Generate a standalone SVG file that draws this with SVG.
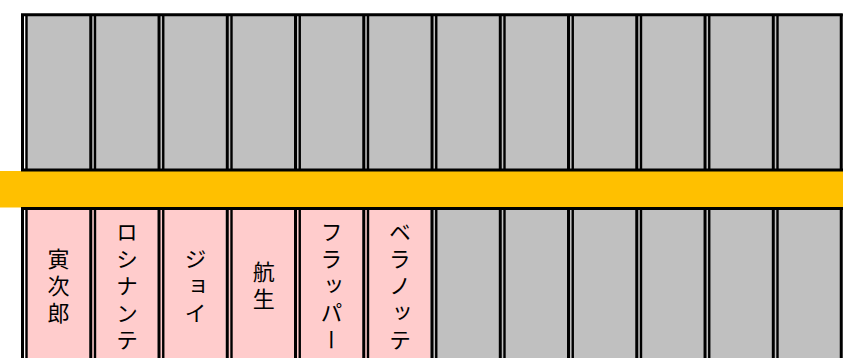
<svg xmlns="http://www.w3.org/2000/svg" width="843" height="358" viewBox="0 0 843 358">
<style>
.g{fill:#C0C0C0}
.p{fill:#FFCCCC}
.a{stroke:#000;stroke-width:3;fill:none}
.b{stroke:#000;stroke-width:2.4;fill:none}
.t{font-family:"Noto Sans CJK JP","Noto Sans CJK SC",sans-serif;font-size:22px;writing-mode:vertical-rl;text-anchor:middle;letter-spacing:5px;fill:#000}
</style>
<rect width="843" height="358" fill="#fff"/>
<g id="band"><rect x="0" y="171" width="843" height="36.5" fill="#FFC000"/></g>

<g id="top-1"><rect class="g" x="25.5" y="15" width="63.75" height="155"/><path class="a" d="M22.5 14V171"/><path class="b" d="M26.5 14V171"/></g>
<g id="top-2"><rect class="g" x="89.25" y="15" width="68.25" height="155"/><path class="a" d="M90.75 14V171"/><path class="b" d="M95 14V171"/></g>
<g id="top-3"><rect class="g" x="157.5" y="15" width="68.25" height="155"/><path class="a" d="M159 14V171"/><path class="b" d="M163.25 14V171"/></g>
<g id="top-4"><rect class="g" x="225.75" y="15" width="68.25" height="155"/><path class="a" d="M227.25 14V171"/><path class="b" d="M231.5 14V171"/></g>
<g id="top-5"><rect class="g" x="294" y="15" width="68.25" height="155"/><path class="a" d="M295.5 14V171"/><path class="b" d="M299.75 14V171"/></g>
<g id="top-6"><rect class="g" x="362.25" y="15" width="68.25" height="155"/><path class="a" d="M363.75 14V171"/><path class="b" d="M368 14V171"/></g>
<g id="top-7"><rect class="g" x="430.5" y="15" width="68.25" height="155"/><path class="a" d="M432 14V171"/><path class="b" d="M436.25 14V171"/></g>
<g id="top-8"><rect class="g" x="498.75" y="15" width="68.25" height="155"/><path class="a" d="M500.25 14V171"/><path class="b" d="M504.5 14V171"/></g>
<g id="top-9"><rect class="g" x="567" y="15" width="68.25" height="155"/><path class="a" d="M568.5 14V171"/><path class="b" d="M572.75 14V171"/></g>
<g id="top-10"><rect class="g" x="635.25" y="15" width="68.25" height="155"/><path class="a" d="M636.75 14V171"/><path class="b" d="M641 14V171"/></g>
<g id="top-11"><rect class="g" x="703.5" y="15" width="68.25" height="155"/><path class="a" d="M705 14V171"/><path class="b" d="M709.25 14V171"/></g>
<g id="top-12"><rect class="g" x="771.75" y="15" width="68.25" height="155"/><path class="a" d="M773.25 14V171"/><path class="b" d="M777.5 14V171"/><path class="a" d="M841.25 14V171"/></g>

<g id="bottom-1"><rect class="p" x="25.5" y="209" width="63.75" height="150"/><path class="a" d="M22.5 208V358"/><path class="b" d="M26.5 208V358"/><text class="t" x="58.5" y="288">寅次郎</text></g>
<g id="bottom-2"><rect class="p" x="89.25" y="209" width="68.25" height="150"/><path class="a" d="M90.75 208V358"/><path class="b" d="M95 208V358"/><text class="t" x="127" y="288">ロシナンテ</text></g>
<g id="bottom-3"><rect class="p" x="157.5" y="209" width="68.25" height="150"/><path class="a" d="M159 208V358"/><path class="b" d="M163.25 208V358"/><text class="t" x="195.5" y="288">ジョイ</text></g>
<g id="bottom-4"><rect class="p" x="225.75" y="209" width="68.25" height="150"/><path class="a" d="M227.25 208V358"/><path class="b" d="M231.5 208V358"/><text class="t" x="263.75" y="288">航生</text></g>
<g id="bottom-5"><rect class="p" x="294" y="209" width="68.25" height="150"/><path class="a" d="M295.5 208V358"/><path class="b" d="M299.75 208V358"/><text class="t" x="331.5" y="288">フラッパー</text></g>
<g id="bottom-6"><rect class="p" x="362.25" y="209" width="68.25" height="150"/><path class="a" d="M363.75 208V358"/><path class="b" d="M368 208V358"/><text class="t" x="400" y="288">ベラノッテ</text></g>
<g id="bottom-7"><rect class="g" x="430.5" y="209" width="68.25" height="150"/><path class="a" d="M432 208V358"/><path class="b" d="M436.25 208V358"/></g>
<g id="bottom-8"><rect class="g" x="498.75" y="209" width="68.25" height="150"/><path class="a" d="M500.25 208V358"/><path class="b" d="M504.5 208V358"/></g>
<g id="bottom-9"><rect class="g" x="567" y="209" width="68.25" height="150"/><path class="a" d="M568.5 208V358"/><path class="b" d="M572.75 208V358"/></g>
<g id="bottom-10"><rect class="g" x="635.25" y="209" width="68.25" height="150"/><path class="a" d="M636.75 208V358"/><path class="b" d="M641 208V358"/></g>
<g id="bottom-11"><rect class="g" x="703.5" y="209" width="68.25" height="150"/><path class="a" d="M705 208V358"/><path class="b" d="M709.25 208V358"/></g>
<g id="bottom-12"><rect class="g" x="771.75" y="209" width="68.25" height="150"/><path class="a" d="M773.25 208V358"/><path class="b" d="M777.5 208V358"/><path class="a" d="M841.25 208V358"/></g>

<g id="frame">
<path class="a" d="M21 14.75H842.75M21 170H843M21 208.5H843"/>
</g>
</svg>
